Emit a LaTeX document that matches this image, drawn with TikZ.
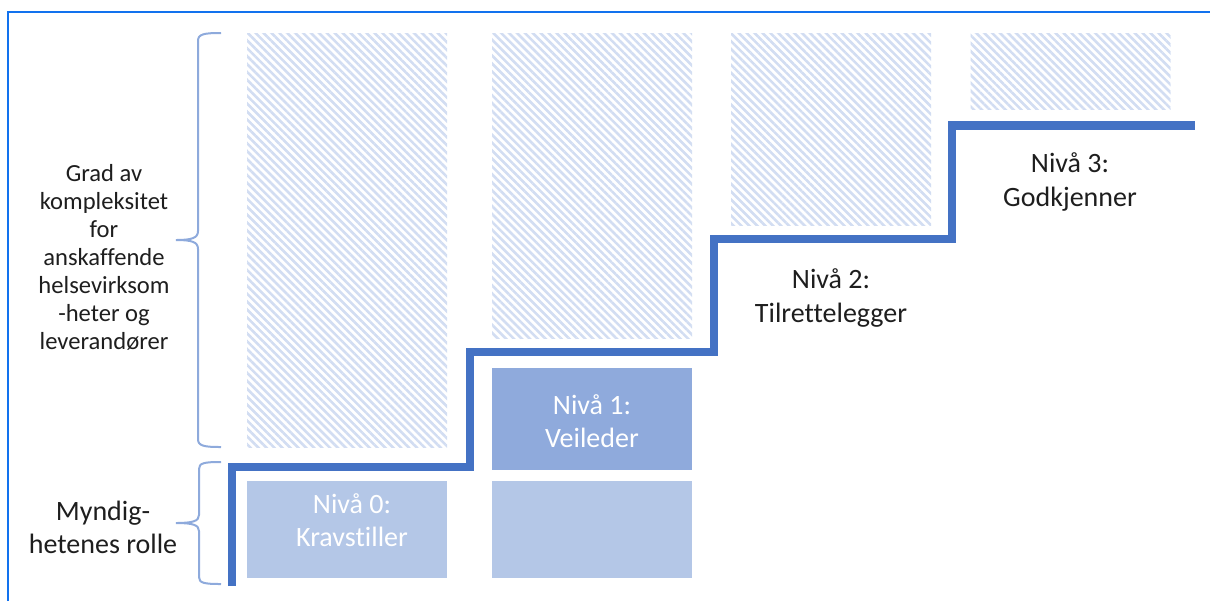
\documentclass[tikz,border=0pt]{standalone}
\usepackage{fontspec}
\setmainfont{Carlito}[Ligatures=NoCommon]
\usetikzlibrary{patterns.meta}

\definecolor{stepblue}{HTML}{4472C4}
\definecolor{lightbox}{HTML}{B4C7E7}
\definecolor{midbox}{HTML}{8FAADC}
\definecolor{hatchblue}{HTML}{D2DDF2}
\definecolor{bracecol}{HTML}{8EAADC}
\definecolor{framecol}{HTML}{1272EE}
\definecolor{txt}{HTML}{1E1E1E}

\tikzset{
  col/.style={minimum width=100pt, inner sep=0pt, outer sep=0pt},
  hatchbox/.style={col, pattern={Lines[angle=-45,distance=2.8pt,line width=1.3pt]}, pattern color=hatchblue},
  lvl/.style={align=center, text=white, font=\fontsize{14}{16.5}\selectfont},
  lbl/.style={align=center, text=txt, font=\fontsize{14}{17}\selectfont},
  brace/.style={draw=bracecol, line width=1pt},
}

\begin{document}
\begin{tikzpicture}[x=0.5pt,y=-0.5pt]
    \useasboundingbox (0,0) rectangle (1210,601);

    % frame
    \draw[framecol, line width=1.2pt] (8,601) -- (8,12) -- (1210,12);

    % hatched columns
    \node[hatchbox, minimum height=207pt] (h0) at (347,240) {};
    \node[hatchbox, minimum height=152.5pt] (h1) at (592,185.5) {};
    \node[hatchbox, minimum height=96pt] (h2) at (831,129) {};
    \node[hatchbox, minimum height=38pt] (h3) at (1070.5,71) {};

    % filled boxes
    \node[col, fill=lightbox, minimum height=48.5pt] (n0) at (347,529.5) {};
    \node[col, fill=midbox, minimum height=51pt] (n1) at (592,419) {};
    \node[col, fill=lightbox, minimum height=48.5pt] (b1) at (592,529.5) {};
    \node[lvl] (t0) at (352,520) {Nivå 0:\\Kravstiller};
    \node[lvl] (t1) at (592,421) {Nivå 1:\\Veileder};

    % levels without box
    \node[lbl] (n2) at (831,298) {Nivå 2:\\Tilrettelegger};
    \node[lbl] (n3) at (1070,182) {Nivå 3:\\Godkjenner};

    % the stair
    \draw[stepblue, line width=4.3pt, miter limit=4]
        (232,586) -- (232,467) -- (470,467) -- (470,352) -- (714,352)
        -- (714,239) -- (952,239) -- (952,125.5) -- (1195,125.5);

    % braces
    \draw[brace] (221,33) .. controls (204,33) and (198,34) .. (198,41)
        -- (198,231) .. controls (198,238) and (192,240) .. (176,240)
        .. controls (192,240) and (198,242) .. (198,249)
        -- (198,439) .. controls (198,446) and (204,447) .. (221,447);
    \draw[brace] (221,462) .. controls (204,462) and (199,463) .. (199,469)
        -- (199,515) .. controls (199,521) and (193,523) .. (176,523)
        .. controls (193,523) and (199,525) .. (199,531)
        -- (199,577) .. controls (199,583) and (204,584) .. (221,584);

    % left texts
    \node[lbl, font=\fontsize{12.3}{14}\selectfont] (grad) at (104,257)
        {Grad av\\kompleksitet\\for\\anskaffende\\helsevirksom\\-heter og\\leverandører};
    \node[lbl, font=\fontsize{14}{16.5}\selectfont] (myn) at (103,527) {Myndig-\\hetenes rolle};
\end{tikzpicture}
\end{document}
